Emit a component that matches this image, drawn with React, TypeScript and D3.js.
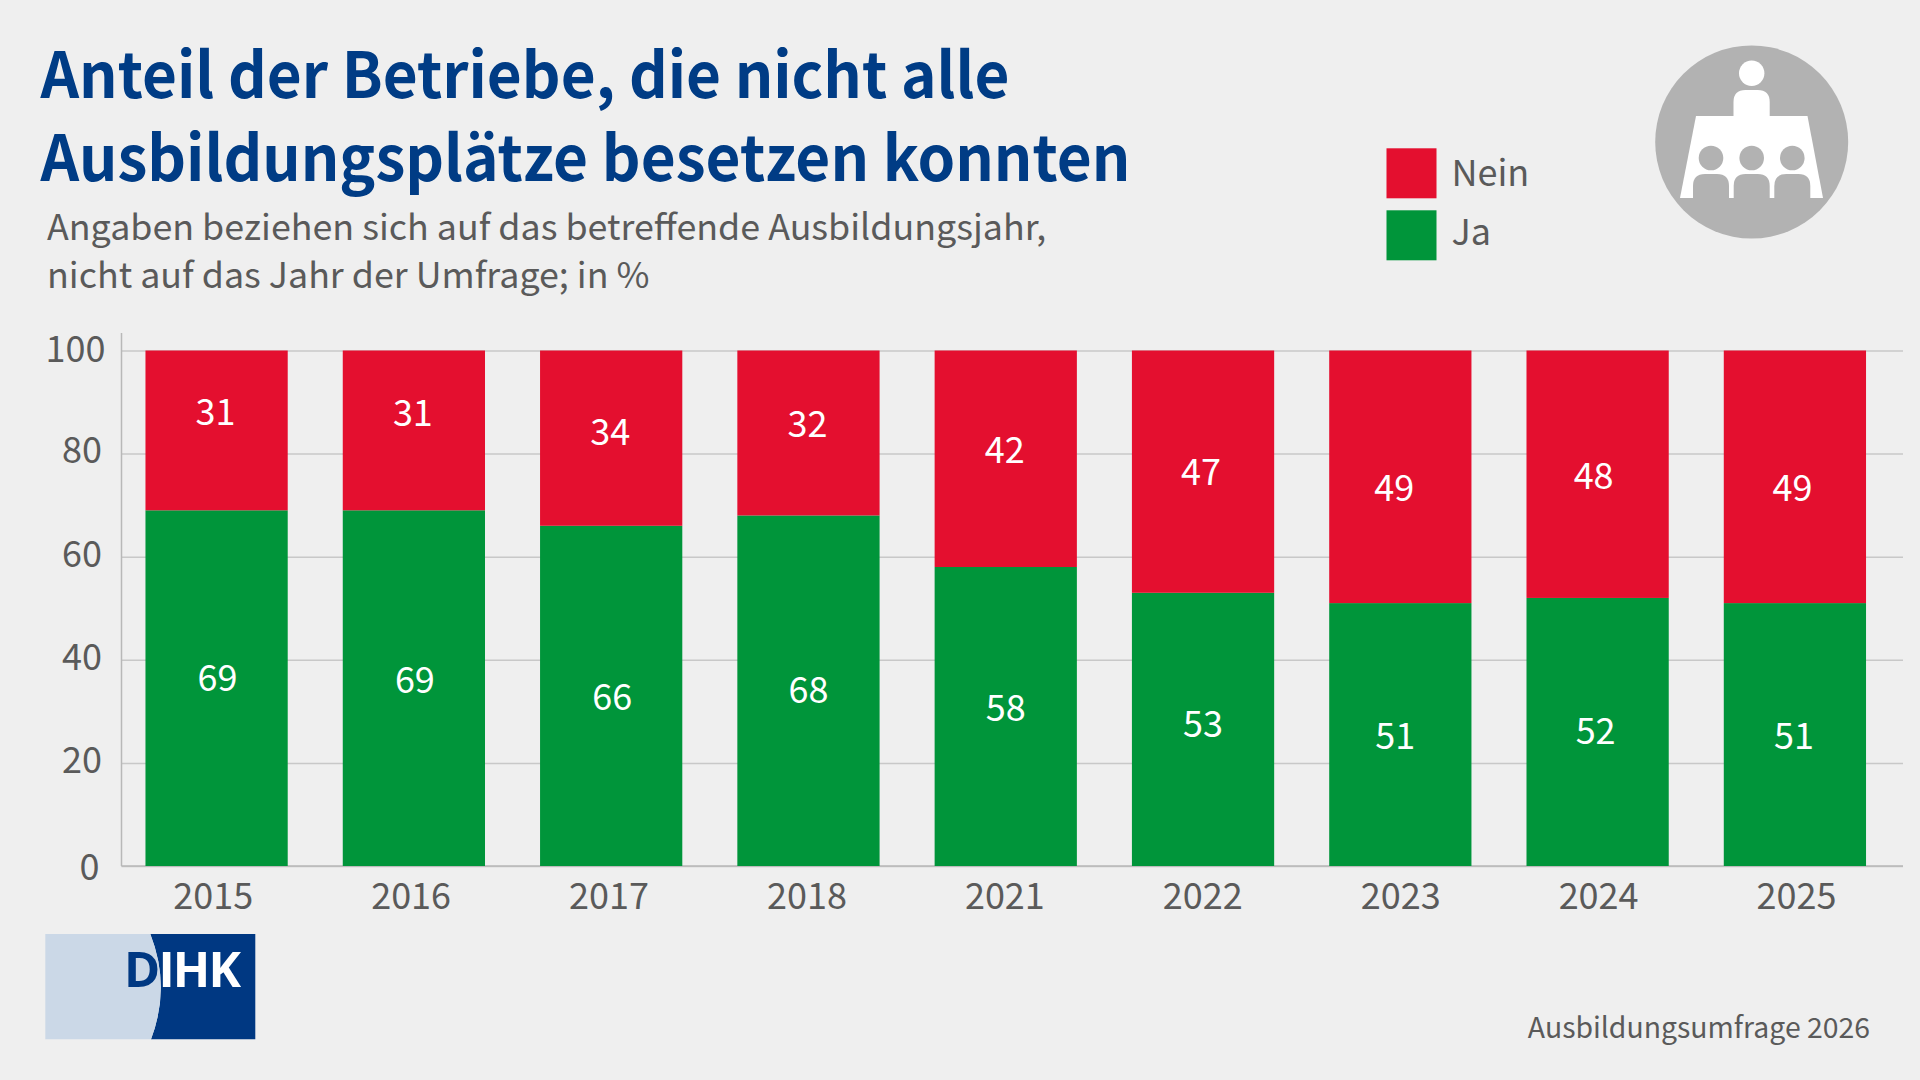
import * as d3 from "d3";
import React, { useEffect, useRef } from "react";

const years = ["2015", "2016", "2017", "2018", "2021", "2022", "2023", "2024", "2025"];
const ja = [69, 69, 66, 68, 58, 53, 51, 52, 51];
const nein = [31, 31, 34, 32, 42, 47, 49, 48, 49];
const yTicks = [0, 20, 40, 60, 80, 100];
const seriesNames = ["Ja", "Nein"];
const legendNames = ["Nein", "Ja"];
const titleLines = ["Anteil der Betriebe, die nicht alle", "Ausbildungsplätze besetzen konnten"];
const subtitleLines = [
  "Angaben beziehen sich auf das betreffende Ausbildungsjahr,",
  "nicht auf das Jahr der Umfrage; in %",
];
const source = "Ausbildungsumfrage 2026";

const FONT = "'Noto Sans CJK SC', 'Noto Sans', sans-serif";
const GREY = "#5a5a5a";
const BLUE = "#003c85";
const colors: Record<string, string> = { Ja: "#00953a", Nein: "#e40f2f" };

// the labels in the original are placed by hand, not exactly in the middle of the segments
const neinShift = [-18, -17, -6, -9, -9, 0, 11, 2, 11];
const jaShift = [-10, -8, 1, -1, -8, -5, 1, -1, 1];
const neinDx = [-1, -1, -1, -1, -1, -2, -6, -4, -2.5];
const jaDx = [1, 1, 1, 0, 0, 0, -5, -2, -1];
const yLabelDx = [-22, -19.5, -19.5, -19.5, -19.5, -16];
const yLabelDy = [1, -3, -3, -2.5, -3, -1.5];
const titleWidths = [969, 1090];
const legendBaselines = [185.7, 245];

// table icon helper: a seated person's shoulders
const shoulders = (x0: number, x1: number, t: number, b: number, r: number) => {
  const p = d3.path();
  p.moveTo(x0, b);
  p.lineTo(x0, t + r);
  p.quadraticCurveTo(x0, t, x0 + r, t);
  p.lineTo(x1 - r, t);
  p.quadraticCurveTo(x1, t, x1, t + r);
  p.lineTo(x1, b);
  p.closePath();
  return p.toString();
};

function Icon() {
  const seats = [1711, 1751.7, 1792.3];
  return (
    <g>
      <circle cx={1751.7} cy={142} r={96.5} fill="#b2b2b2" />
      <circle cx={1751.7} cy={73.3} r={12.7} fill="#fff" />
      <path d={shoulders(1733.5, 1769.7, 90, 118, 12)} fill="#fff" />
      <path d="M1696 116H1807.5L1823 198H1680Z" fill="#fff" />
      {seats.map((sx) => (
        <g key={sx}>
          <circle cx={sx} cy={158} r={12.3} fill="#b2b2b2" />
          <path d={shoulders(sx - 18, sx + 18, 174, 198, 12)} fill="#b2b2b2" />
        </g>
      ))}
    </g>
  );
}

function Logo() {
  return (
    <g>
      <path d="M150.3 934H255.3V1039.3H151Q171 986.5 150.3 934Z" fill="#003882" />
      <path d="M45.3 934H150.3Q171 986.5 151 1039.3H45.3Z" fill="#cbd8e7" />
      <text
        x={124}
        y={987.3}
        fontFamily="'Open Sans', sans-serif"
        fontWeight={700}
        fontSize={49}
        textLength={117}
        lengthAdjust="spacing"
      >
        <tspan fill="#003882">D</tspan>
        <tspan fill="#fff">IHK</tspan>
      </text>
    </g>
  );
}

export default function App() {
  const ref = useRef<SVGGElement>(null);

  useEffect(() => {
    const svg = d3.select(ref.current);
    svg.selectAll("*").remove();

    const left = 121.5;
    const right = 1890;
    const gridEnd = 1903;
    const top = 350.5;
    const bottom = 866;

    const x = d3.scaleBand().domain(years).range([left, right]).paddingInner(0.279).paddingOuter(0.1215);
    const y = d3.scaleLinear().domain([0, 100]).range([bottom, top]);
    const tickX = d3.scalePoint().domain(years).range([212.7, 1796]);

    const rows = years.map((year, i) => ({ year, Ja: ja[i], Nein: nein[i] }));
    const series = d3.stack().keys(seriesNames)(rows as any);

    // grid + axes
    const yAxis = d3.axisLeft(y).tickValues(yTicks).tickSize(left - gridEnd);
    const gy = svg.append("g").attr("transform", `translate(${left},0)`).call(yAxis as any);
    gy.select(".domain").remove();
    gy.selectAll(".tick line").attr("stroke", "#c8c8c8").attr("stroke-width", 1.5);
    gy.selectAll(".tick text")
      .attr("x", (d: any, i: number) => yLabelDx[i])
      .attr("y", (d: any, i: number) => yLabelDy[i])
      .attr("dy", "0.34em")
      .attr("fill", GREY)
      .attr("font-family", FONT)
      .attr("font-size", 36);

    svg.append("line")
      .attr("x1", left).attr("x2", left)
      .attr("y1", 333).attr("y2", bottom)
      .attr("stroke", "#b8b8b8").attr("stroke-width", 1.5);

    const xAxis = d3.axisBottom(tickX).tickSize(0).tickPadding(17.7);
    const gx = svg.append("g").attr("transform", `translate(0,${bottom})`).call(xAxis as any);
    gx.select(".domain").remove();
    gx.selectAll(".tick text")
      .attr("fill", GREY)
      .attr("font-family", FONT)
      .attr("font-size", 36);

    svg.append("line")
      .attr("x1", left).attr("x2", gridEnd)
      .attr("y1", bottom).attr("y2", bottom)
      .attr("stroke", "#b8b8b8").attr("stroke-width", 1.5);

    // bars
    series.forEach((s: any) => {
      svg.append("g")
        .selectAll("rect")
        .data(s)
        .join("rect")
        .attr("x", (d: any) => x(d.data.year)!)
        .attr("width", x.bandwidth())
        .attr("y", (d: any) => y(d[1]))
        .attr("height", (d: any) => y(d[0]) - y(d[1]))
        .attr("fill", colors[s.key]);
    });

    // value labels
    series.forEach((s: any) => {
      const shift = s.key === "Ja" ? jaShift : neinShift;
      const dx = s.key === "Ja" ? jaDx : neinDx;
      svg.append("g")
        .selectAll("text")
        .data(s)
        .join("text")
        .attr("x", (d: any, i: number) => x(d.data.year)! + x.bandwidth() / 2 + dx[i])
        .attr("y", (d: any, i: number) => y((d[0] + d[1]) / 2) + shift[i])
        .attr("dy", "0.36em")
        .attr("text-anchor", "middle")
        .attr("fill", "#fff")
        .attr("font-family", FONT)
        .attr("font-size", 36)
        .text((d: any) => d[1] - d[0]);
    });

    // legend
    const legendY = d3.scalePoint().domain(legendNames).range([148.3, 210.3]);
    const lg = svg.append("g")
      .selectAll("g")
      .data(legendNames)
      .join("g");
    lg.append("rect")
      .attr("x", 1386.5)
      .attr("y", (d) => legendY(d)!)
      .attr("width", 50)
      .attr("height", 50)
      .attr("fill", (d) => colors[d]);
    lg.append("text")
      .attr("x", 1451.5)
      .attr("y", (d, i) => legendBaselines[i])
      .attr("fill", GREY)
      .attr("font-family", FONT)
      .attr("font-size", 36)
      .text((d) => d);
  }, []);

  return (
    <svg
      width={1920}
      height={1080}
      style={{ position: "absolute", left: 0, top: 0, background: "#efefef" }}
    >
      <g fontFamily={FONT}>
        {titleLines.map((t, i) => (
          <text
            key={t}
            x={40.5}
            y={97.7 + i * 83}
            fontSize={63}
            fontWeight={700}
            fill={BLUE}
            textLength={titleWidths[i]}
            lengthAdjust="spacingAndGlyphs"
          >
            {t}
          </text>
        ))}
        {subtitleLines.map((t, i) => (
          <text key={t} x={47} y={240.3 + i * 48} fontSize={35.8} fill={GREY}>
            {t}
          </text>
        ))}
        <text x={1870} y={1038.3} fontSize={28.4} fill={GREY} textAnchor="end">
          {source}
        </text>
      </g>
      <Icon />
      <Logo />
      <g ref={ref} />
    </svg>
  );
}
